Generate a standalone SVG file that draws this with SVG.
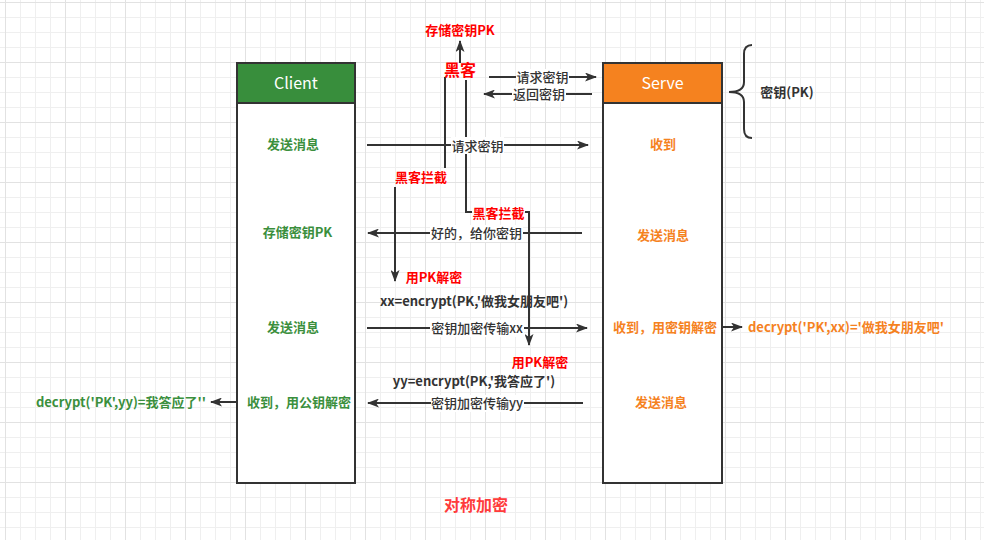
<svg xmlns="http://www.w3.org/2000/svg" width="984" height="540" viewBox="0 0 984 540">
<defs>
<pattern id="grid" x="5" y="2" width="60" height="60" patternUnits="userSpaceOnUse">
<path d="M15.5 0V60M30.5 0V60M45.5 0V60M0 15.5H60M0 30.5H60M0 45.5H60" stroke="#efefef" stroke-width="1" fill="none"/>
<path d="M0.5 0V60M0 0.5H60" stroke="#e2e2e2" stroke-width="1" fill="none"/>
</pattern>
<marker id="arr" viewBox="0 0 12 9" refX="11" refY="4.5" markerWidth="12" markerHeight="9" markerUnits="userSpaceOnUse" orient="auto">
<path d="M0 0L12 4.5L0 9L3 4.5Z" fill="#333"/>
</marker>
<style>
text{font-family:"Noto Sans CJK SC","Liberation Sans",sans-serif;font-size:13px;text-anchor:middle}
.b{font-weight:bold}
.m{font-weight:500}
.g{fill:#3b8f3d;font-weight:bold}
.o{fill:#f5821f;font-weight:bold}
.r{fill:#ff0000;font-weight:bold}
.d{fill:#333}
.ln{stroke:#333;stroke-width:2;fill:none}
.box{fill:#fff;stroke:#333;stroke-width:2}
.bg{fill:#fff}
</style>
</defs>
<rect width="984" height="540" fill="#fff"/>
<rect width="984" height="540" fill="url(#grid)"/>

<g id="connectors">
<path class="ln" d="M460 63V41" marker-end="url(#arr)"/>
<path class="ln" d="M445 77V168"/>
<path class="ln" d="M466 80V212H472"/>
<path class="ln" d="M395 187V281" marker-end="url(#arr)"/>
<path class="ln" d="M525 212H529V345" marker-end="url(#arr)"/>
<path class="ln" d="M489 77H596" marker-end="url(#arr)"/>
<path class="ln" d="M592 94H484" marker-end="url(#arr)"/>
<path class="ln" d="M367 145H588" marker-end="url(#arr)"/>
<path class="ln" d="M582 233H368" marker-end="url(#arr)"/>
<path class="ln" d="M367 328H587" marker-end="url(#arr)"/>
<path class="ln" d="M583 403H368" marker-end="url(#arr)"/>
<path class="ln" d="M718 327H742" marker-end="url(#arr)"/>
<path class="ln" d="M238 402H211" marker-end="url(#arr)"/>
<path class="ln" d="M752 45Q744 45 744 54V82Q744 92 729 92Q744 92 744 102V129Q744 138 752 138"/>
</g>

<g id="connector-labels">
<rect class="bg" x="516" y="69" width="53" height="16"/>
<text class="d m" x="542.5" y="81.5">请求密钥</text>
<rect class="bg" x="512" y="86" width="54" height="16"/>
<text class="d m" x="539" y="98.5">返回密钥</text>
<rect class="bg" x="451" y="137" width="53" height="17"/>
<text class="d m" x="477.5" y="150.5">请求密钥</text>
<rect class="bg" x="430" y="225" width="93" height="17"/>
<text class="d m" x="476.5" y="238">好的，给你密钥</text>
<rect class="bg" x="430" y="320" width="94" height="17"/>
<text class="d m" x="477" y="333">密钥加密传输xx</text>
<rect class="bg" x="431" y="395" width="93" height="17"/>
<text class="d m" x="477" y="408">密钥加密传输yy</text>
</g>

<g id="client">
<rect class="box" x="237" y="63" width="118" height="420"/>
<rect x="237" y="63" width="118" height="40" fill="#388e3c" stroke="#333" stroke-width="2"/>
<text x="296" y="89" style="font-size:16px;fill:#fff">Client</text>
<text class="g" x="293" y="148.5">发送消息</text>
<text class="g" x="297.5" y="236.5">存储密钥PK</text>
<text class="g" x="293" y="331.5">发送消息</text>
<text class="g" x="299" y="406.5">收到，用公钥解密</text>
</g>

<g id="serve">
<rect class="box" x="603" y="63" width="119" height="420"/>
<rect x="603" y="63" width="119" height="40" fill="#f5821f" stroke="#333" stroke-width="2"/>
<text x="662.5" y="89" style="font-size:16px;fill:#fff">Serve</text>
<text class="o" x="663" y="148.5">收到</text>
<text class="o" x="663" y="239.5">发送消息</text>
<text class="o" x="665" y="331.5">收到，用密钥解密</text>
<text class="o" x="661" y="406.5">发送消息</text>
</g>

<g id="hacker">
<text class="r" x="460" y="75.5" style="font-size:16px">黑客</text>
<text class="r" x="460" y="34.5">存储密钥PK</text>
<text class="r" x="421" y="181.5">黑客拦截</text>
<text class="r" x="498.5" y="217.5">黑客拦截</text>
<text class="r" x="434" y="281.5">用PK解密</text>
<text class="r" x="540" y="366.5">用PK解密</text>
</g>

<g id="key-note">
<text class="d b" x="787" y="96.5">密钥(PK)</text>
</g>

<g id="formulas">
<text class="d b" x="474" y="305.5">xx=encrypt(PK,'做我女朋友吧')</text>
<text class="d b" x="474" y="385.5">yy=encrypt(PK,'我答应了')</text>
<text class="o" x="748" y="331.5" style="text-anchor:start">decrypt('PK',xx)='做我女朋友吧'</text>
<text class="g" x="206" y="406.5" style="text-anchor:end">decrypt('PK',yy)=我答应了''</text>
</g>

<g id="title">
<text x="476" y="510.5" style="font-size:16px;font-weight:bold;fill:#ff3b3b">对称加密</text>
</g>
</svg>
